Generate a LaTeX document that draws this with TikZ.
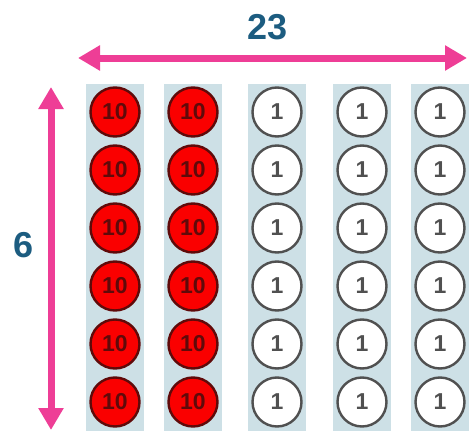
\documentclass[tikz,border=0pt]{standalone}
\usepackage{fontspec}
\usepackage{xcolor}
\usepackage{tikz}
\usetikzlibrary{arrows.meta, positioning}
\newfontfamily\diafont{Liberation Sans}
\definecolor{mypink}{RGB}{238,62,150}
\definecolor{myblue}{RGB}{28,92,128}
\definecolor{mystrip}{RGB}{205,224,230}
\definecolor{myred}{RGB}{250,0,0}
\definecolor{mydarkred}{RGB}{95,10,10}
\definecolor{mygrey}{RGB}{80,80,80}
\tikzset{
  strip/.style={fill=mystrip, draw=none},
  tenball/.style={circle, draw=mydarkred, fill=myred, text=mydarkred,
    minimum size=49pt, inner sep=0pt, line width=2.4pt,
    font=\diafont\bfseries\fontsize{23}{23}\selectfont},
  oneball/.style={circle, draw=mygrey, fill=white, text=mygrey,
    minimum size=49pt, inner sep=0pt, line width=2.4pt,
    font=\diafont\bfseries\fontsize{23}{23}\selectfont},
  dimarrow/.style={{Triangle[length=22pt, width=24pt]}-{Triangle[length=22pt, width=24pt]},
    line width=7pt, color=mypink},
  dimlabel/.style={text=myblue, font=\diafont\bfseries\fontsize{36}{36}\selectfont}
}

\begin{document}
\begin{tikzpicture}[x=1pt, y=-1pt]
  \useasboundingbox (0,0) rectangle (469,431);
  \foreach \x in {115,193,277,362,440} \fill[strip] (\x-29,84) rectangle (\x+29,431);
  \foreach \r in {0,...,5} {
    \foreach \x [count=\c] in {115,193} \node[tenball] (ten-\c-\r) at (\x,112+58*\r) {10};
    \foreach \x [count=\c] in {277,362,440} \node[oneball] (one-\c-\r) at (\x,112+58*\r) {1};
  }

  \coordinate (wl) at (78,58);
  \coordinate (wr) at (467,58);
  \coordinate (ht) at (51,87);
  \coordinate (hb) at (51,430);
  \draw[dimarrow] (wl) -- (wr);
  \draw[dimarrow] (ht) -- (hb);
  \node[dimlabel] (width) at (268,27) {23};
  \node[dimlabel] (height) at (24,245) {6};
\end{tikzpicture}
\end{document}
